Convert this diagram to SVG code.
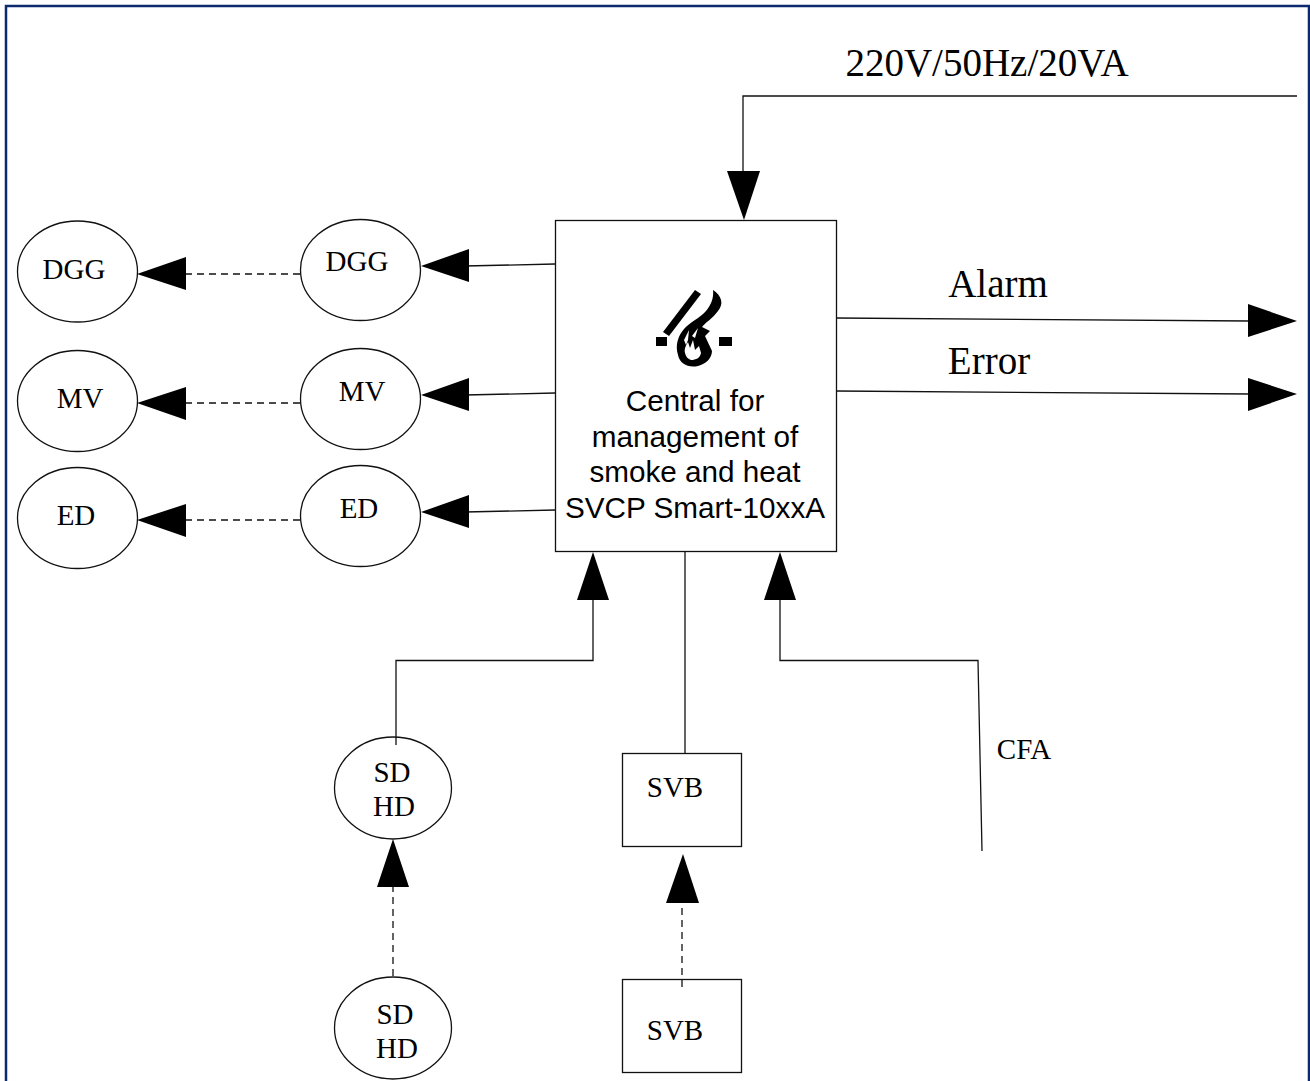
<svg xmlns="http://www.w3.org/2000/svg" width="1310" height="1081" viewBox="0 0 1310 1081">
<style>
.s{font-family:"Liberation Serif",serif;fill:#000;text-anchor:middle}
.n{font-size:29px}
.l{fill:none;stroke:#111;stroke-width:1.3}
.d{stroke-dasharray:7 5}
.e{fill:#fff;stroke:#111;stroke-width:1.3}
.a{fill:#000}
</style>
<rect width="1310" height="1081" fill="#fff"/>
<path d="M6 1081V6H1309V1081" fill="none" stroke="#0d2a6e" stroke-width="2.500"/>
<g id="central">
<rect class="e" x="555.500" y="220.500" width="281" height="331"/>
<g fill="#000">
<path d="M663 332L695 290L701 294L669 336Z"/>
<rect x="656" y="337" width="11" height="9"/>
<rect x="719" y="337" width="13" height="9"/>
<path d="M713 290C722 296 724 304 718 311C712 319 706 322 702 327L710 331L705 336L712 351C712 358 706 364 698 366C688 368 680 364 678 355C675 345 678 336 684 329C690 322 700 318 706 311C711 305 714 298 713 290Z"/>
</g>
<path d="M685 353C684 349 686 345 688 342L690 348L693 340L695 350L699 346L701 353C700 358 696 360 691 360C688 359 686 357 685 353Z" fill="#fff"/>
<path d="M684 340L689 330L688 340L686 345ZM692 336L698 328L695 338Z" fill="#fff"/>
<g font-family="'Liberation Sans',sans-serif" font-size="29.700" fill="#000" text-anchor="middle">
<text x="695" y="410.500">Central for</text>
<text x="695" y="446.500">management of</text>
<text x="695" y="481.500">smoke and heat</text>
<text x="695" y="517.500">SVCP Smart-10xxA</text>
</g>
</g>
<g id="dgg2"><ellipse class="e" cx="77.500" cy="271.500" rx="60" ry="50.500"/><text class="s n" x="74" y="279">DGG</text></g>
<g id="dgg1"><ellipse class="e" cx="360.500" cy="270" rx="60" ry="50.500"/><text class="s n" x="357" y="271">DGG</text></g>
<g id="mv2"><ellipse class="e" cx="77.500" cy="401" rx="60" ry="50.500"/><text class="s n" x="80" y="408">MV</text></g>
<g id="mv1"><ellipse class="e" cx="360.500" cy="399" rx="60" ry="50.500"/><text class="s n" x="362" y="401">MV</text></g>
<g id="ed2"><ellipse class="e" cx="77.500" cy="518" rx="60" ry="50.500"/><text class="s n" x="76" y="525">ED</text></g>
<g id="ed1"><ellipse class="e" cx="360.500" cy="516" rx="60" ry="50.500"/><text class="s n" x="359" y="518">ED</text></g>
<g id="sdhd1"><ellipse class="e" cx="393" cy="788" rx="58.500" ry="51"/><text class="s n" x="392" y="782">SD</text><text class="s n" x="394" y="816">HD</text></g>
<g id="sdhd2"><ellipse class="e" cx="393" cy="1028" rx="58.500" ry="51"/><text class="s n" x="395" y="1024">SD</text><text class="s n" x="397" y="1058">HD</text></g>
<g id="svb1"><rect class="e" x="622.500" y="753.500" width="119" height="93"/><text class="s n" x="675" y="797">SVB</text></g>
<g id="svb2"><rect class="e" x="622.500" y="979.500" width="119" height="93"/><text class="s n" x="675" y="1040">SVB</text></g>
<g id="connectors">
<path class="l" d="M1297 96H743V175"/>
<path class="a" d="M727 171H760L744 220Z"/>
<path class="l" d="M836 318L1250 321"/><path class="a" d="M1248 304L1297 321L1248 337Z"/>
<path class="l" d="M836 391L1250 394"/><path class="a" d="M1248 378L1297 394L1248 411Z"/>
<path class="l" d="M555 264L465 266"/><path class="a" d="M469 249V282L421 266Z"/>
<path class="l" d="M555 393L465 395"/><path class="a" d="M469 378V411L421 395Z"/>
<path class="l" d="M555 510L465 512"/><path class="a" d="M469 495V528L421 512Z"/>
<path class="l d" d="M300 274H185"/><path class="a" d="M186 257V290L137 274Z"/>
<path class="l d" d="M300 403H185"/><path class="a" d="M186 387V420L137 403Z"/>
<path class="l d" d="M300 520H185"/><path class="a" d="M186 504V537L137 520Z"/>
<path class="l" d="M396 745V660.500H593V597"/><path class="a" d="M577 600H609L593 552Z"/>
<path class="l" d="M685 552V753"/>
<path class="l" d="M982 851L978 660.500H780V597"/><path class="a" d="M764 600H796L780 552Z"/>
<path class="l d" d="M393 976V885"/><path class="a" d="M377 887H409L393 839Z"/>
<path class="l d" d="M682 987V900"/><path class="a" d="M666 903H699L683 854Z"/>
</g>
<g id="labels">
<text class="s" x="987" y="76" font-size="39">220V/50Hz/20VA</text>
<text class="s" x="998" y="297" font-size="39">Alarm</text>
<text class="s" x="989" y="374" font-size="39">Error</text>
<text class="s n" x="1024" y="759">CFA</text>
</g>
</svg>
